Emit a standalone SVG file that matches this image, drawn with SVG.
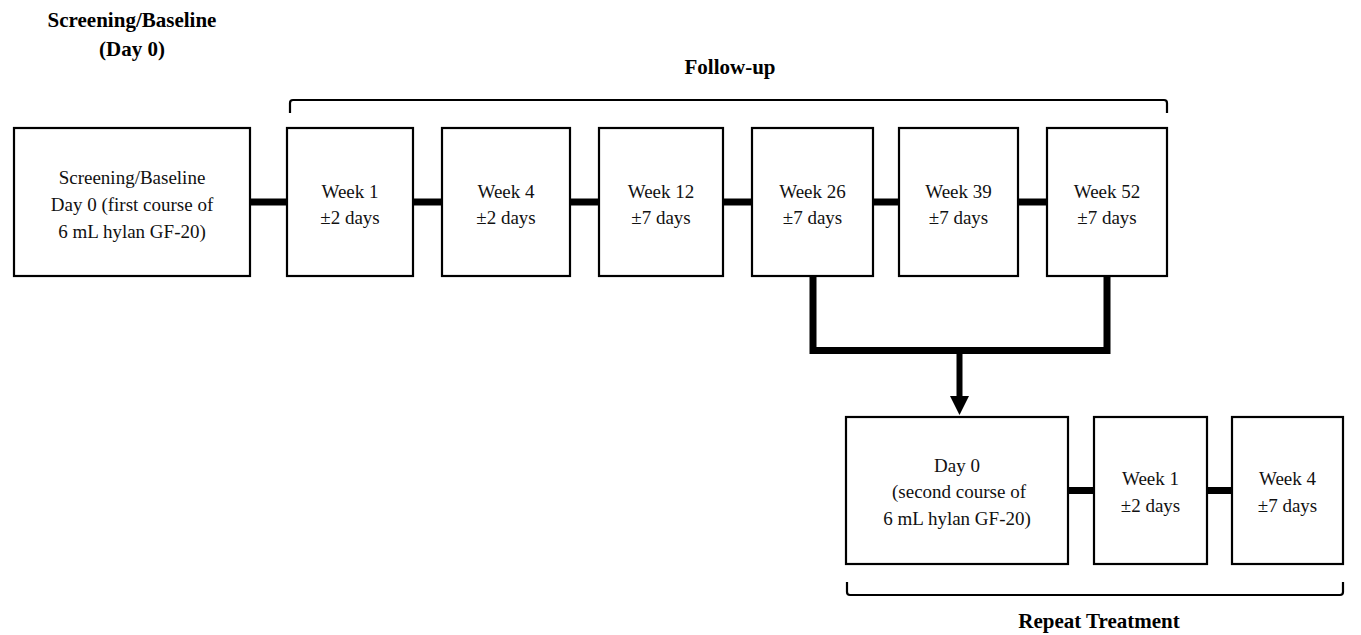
<svg xmlns="http://www.w3.org/2000/svg" width="1361" height="635" viewBox="0 0 1361 635">
<defs>
<style>
.box{fill:#fff;stroke:#000;stroke-width:2.2}
.t{font-family:'Liberation Serif','Times New Roman','DejaVu Serif',serif;font-size:19px;fill:#111;text-anchor:middle}
.h{font-family:'Liberation Serif','Times New Roman','DejaVu Serif',serif;font-size:21px;font-weight:bold;fill:#000;text-anchor:middle}
.c{fill:none;stroke:#000;stroke-width:7}
.br{fill:none;stroke:#000;stroke-width:2.2}
</style>
</defs>
<rect width="1361" height="635" fill="#fff"/>
<g id="labels">
<text class="h" x="132" y="27">Screening/Baseline</text>
<text class="h" x="132" y="56">(Day 0)</text>
<text class="h" x="730" y="74">Follow-up</text>
<text class="h" x="1099" y="628">Repeat Treatment</text>
</g>
<g id="brackets">
<path class="br" d="M290,113 V103 Q290,100 293,100 H1164 Q1167,100 1167,103 V113"/>
<path class="br" d="M847,582 V592 Q847,595 850,595 H1340 Q1343,595 1343,592 V582"/>
</g>
<g id="connectors">
<line class="c" x1="250" y1="202" x2="287" y2="202"/>
<line class="c" x1="413" y1="202" x2="442" y2="202"/>
<line class="c" x1="570" y1="202" x2="599" y2="202"/>
<line class="c" x1="723" y1="202" x2="752" y2="202"/>
<line class="c" x1="873" y1="202" x2="899" y2="202"/>
<line class="c" x1="1018" y1="202" x2="1047" y2="202"/>
<path class="c" d="M813,276 V350.5 H1107 V276" stroke-linejoin="miter"/>
<line x1="959.5" y1="354" x2="959.5" y2="398" stroke="#000" stroke-width="6"/>
<path d="M950,396 L969,396 L959.5,415 Z" fill="#000"/>
<line class="c" x1="1068" y1="490.5" x2="1094" y2="490.5"/>
<line class="c" x1="1207" y1="490.5" x2="1232" y2="490.5"/>
</g>
<g id="n0">
<rect class="box" x="14" y="128" width="236" height="148"/>
<text class="t" x="132" y="184">Screening/Baseline</text>
<text class="t" x="132" y="211">Day 0 (first course of</text>
<text class="t" x="132" y="238">6 mL hylan GF-20)</text>
</g>
<g id="n1">
<rect class="box" x="287" y="128" width="126" height="148"/>
<text class="t" x="350" y="198">Week 1</text>
<text class="t" x="350" y="224">±2 days</text>
</g>
<g id="n2">
<rect class="box" x="442" y="128" width="128" height="148"/>
<text class="t" x="506" y="198">Week 4</text>
<text class="t" x="506" y="224">±2 days</text>
</g>
<g id="n3">
<rect class="box" x="599" y="128" width="124" height="148"/>
<text class="t" x="661" y="198">Week 12</text>
<text class="t" x="661" y="224">±7 days</text>
</g>
<g id="n4">
<rect class="box" x="752" y="128" width="121" height="148"/>
<text class="t" x="812.5" y="198">Week 26</text>
<text class="t" x="812.5" y="224">±7 days</text>
</g>
<g id="n5">
<rect class="box" x="899" y="128" width="119" height="148"/>
<text class="t" x="958.5" y="198">Week 39</text>
<text class="t" x="958.5" y="224">±7 days</text>
</g>
<g id="n6">
<rect class="box" x="1047" y="128" width="120" height="148"/>
<text class="t" x="1107" y="198">Week 52</text>
<text class="t" x="1107" y="224">±7 days</text>
</g>
<g id="r0">
<rect class="box" x="846" y="417" width="222" height="147"/>
<text class="t" x="957" y="472">Day 0</text>
<text class="t" x="959" y="498">(second course of</text>
<text class="t" x="957" y="525">6 mL hylan GF-20)</text>
</g>
<g id="r1">
<rect class="box" x="1094" y="417" width="113" height="147"/>
<text class="t" x="1150.5" y="485">Week 1</text>
<text class="t" x="1150.5" y="512">±2 days</text>
</g>
<g id="r2">
<rect class="box" x="1232" y="417" width="111" height="147"/>
<text class="t" x="1287.5" y="485">Week 4</text>
<text class="t" x="1287.5" y="512">±7 days</text>
</g>
</svg>
